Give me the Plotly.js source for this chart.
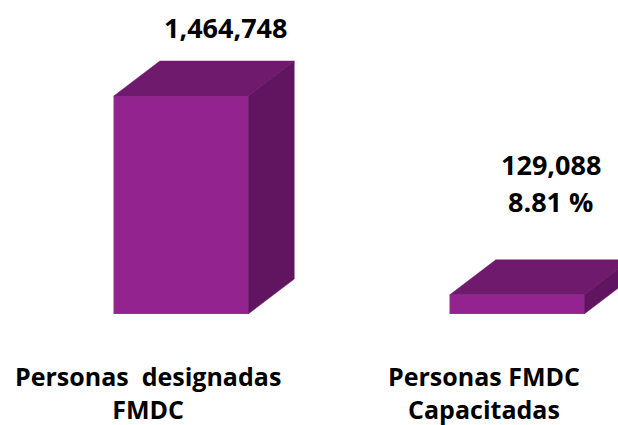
<!DOCTYPE html>
<html>
<head>
<meta charset="utf-8">
<script src="https://cdn.plot.ly/plotly-3.0.1.min.js"></script>
<style>html,body{margin:0;padding:0;background:#fff;}#chart{width:618px;height:425px;}</style>
</head>
<body>
<div id="chart"></div>
<script>
// ---- data ----
const categoryLines = [["Personas  designadas", "FMDC"], ["Personas FMDC", "Capacitadas"]];
const values = [1464748, 129088];
const valueLabels = [["1,464,748"], ["129,088", "8.81 %"]];

// ---- style ----
const frontColor = "#93238f";
const topColor = "#701a6e";
const sideColor = "#611561";
const barW = 0.4;
const depthX = 0.137;
const depthY = 235000;
const yMax = values[0] * 314 / 218;
const fontFam = "Open Sans, DejaVu Sans, sans-serif";

const xs = values.map((v, i) => i);

// front faces
const frontTrace = {
  type: "bar", x: xs, y: values, width: barW,
  marker: {color: frontColor, line: {color: "#a34aa0", width: 0.6}},
  hoverinfo: "none", showlegend: false
};

// top and side faces built from values
const topX = [], topY = [], sideX = [], sideY = [];
values.forEach((v, i) => {
  const l = i - barW / 2, r = i + barW / 2;
  topX.push(l, r, r + depthX, l + depthX, l, null);
  topY.push(v, v, v + depthY, v + depthY, v, null);
  sideX.push(r, r + depthX, r + depthX, r, r, null);
  sideY.push(0, depthY, v + depthY, v, 0, null);
});
const topTrace = {type: "scatter", mode: "lines", x: topX, y: topY, fill: "toself",
  fillcolor: topColor, line: {color: topColor, width: 0.5}, hoverinfo: "none", showlegend: false};
const sideTrace = {type: "scatter", mode: "lines", x: sideX, y: sideY, fill: "toself",
  fillcolor: sideColor, line: {color: sideColor, width: 0.5}, hoverinfo: "none", showlegend: false};

// annotations
const plotH = 314;
const py = p => (plotH - p) / plotH;
const annotations = [];
const valueOffsets = [0.131, 0.101];
const valueYs = [[27], [163, 200]];
valueLabels.forEach((lines, i) => {
  lines.forEach((t, k) => {
    annotations.push({x: i + valueOffsets[i], xref: "x", y: py(valueYs[i][k] + 1), yref: "paper",
      text: "<b>" + t + "</b>", showarrow: false, xanchor: "center", yanchor: "middle",
      font: {family: fontFam, size: 27, color: "#000"}});
  });
});
categoryLines.forEach((lines, i) => {
  annotations.push({x: i - 0.098, xref: "x", y: py(392), yref: "paper",
    text: lines.map(t => "<b>" + t + "</b>").join("<br>"), showarrow: false,
    xanchor: "center", yanchor: "middle", align: "center",
    font: {family: fontFam, size: 25, color: "#000"}});
});

const layout = {
  width: 618, height: 425,
  margin: {l: 0, r: 0, t: 0, b: 111},
  paper_bgcolor: "#fff", plot_bgcolor: "#fff",
  xaxis: {range: [-181 / 336, 437 / 336], visible: false, fixedrange: true},
  yaxis: {range: [0, yMax], visible: false, fixedrange: true},
  showlegend: false,
  annotations: annotations
};

Plotly.newPlot("chart", [frontTrace, topTrace, sideTrace], layout, {staticPlot: true});
</script>
</body>
</html>
